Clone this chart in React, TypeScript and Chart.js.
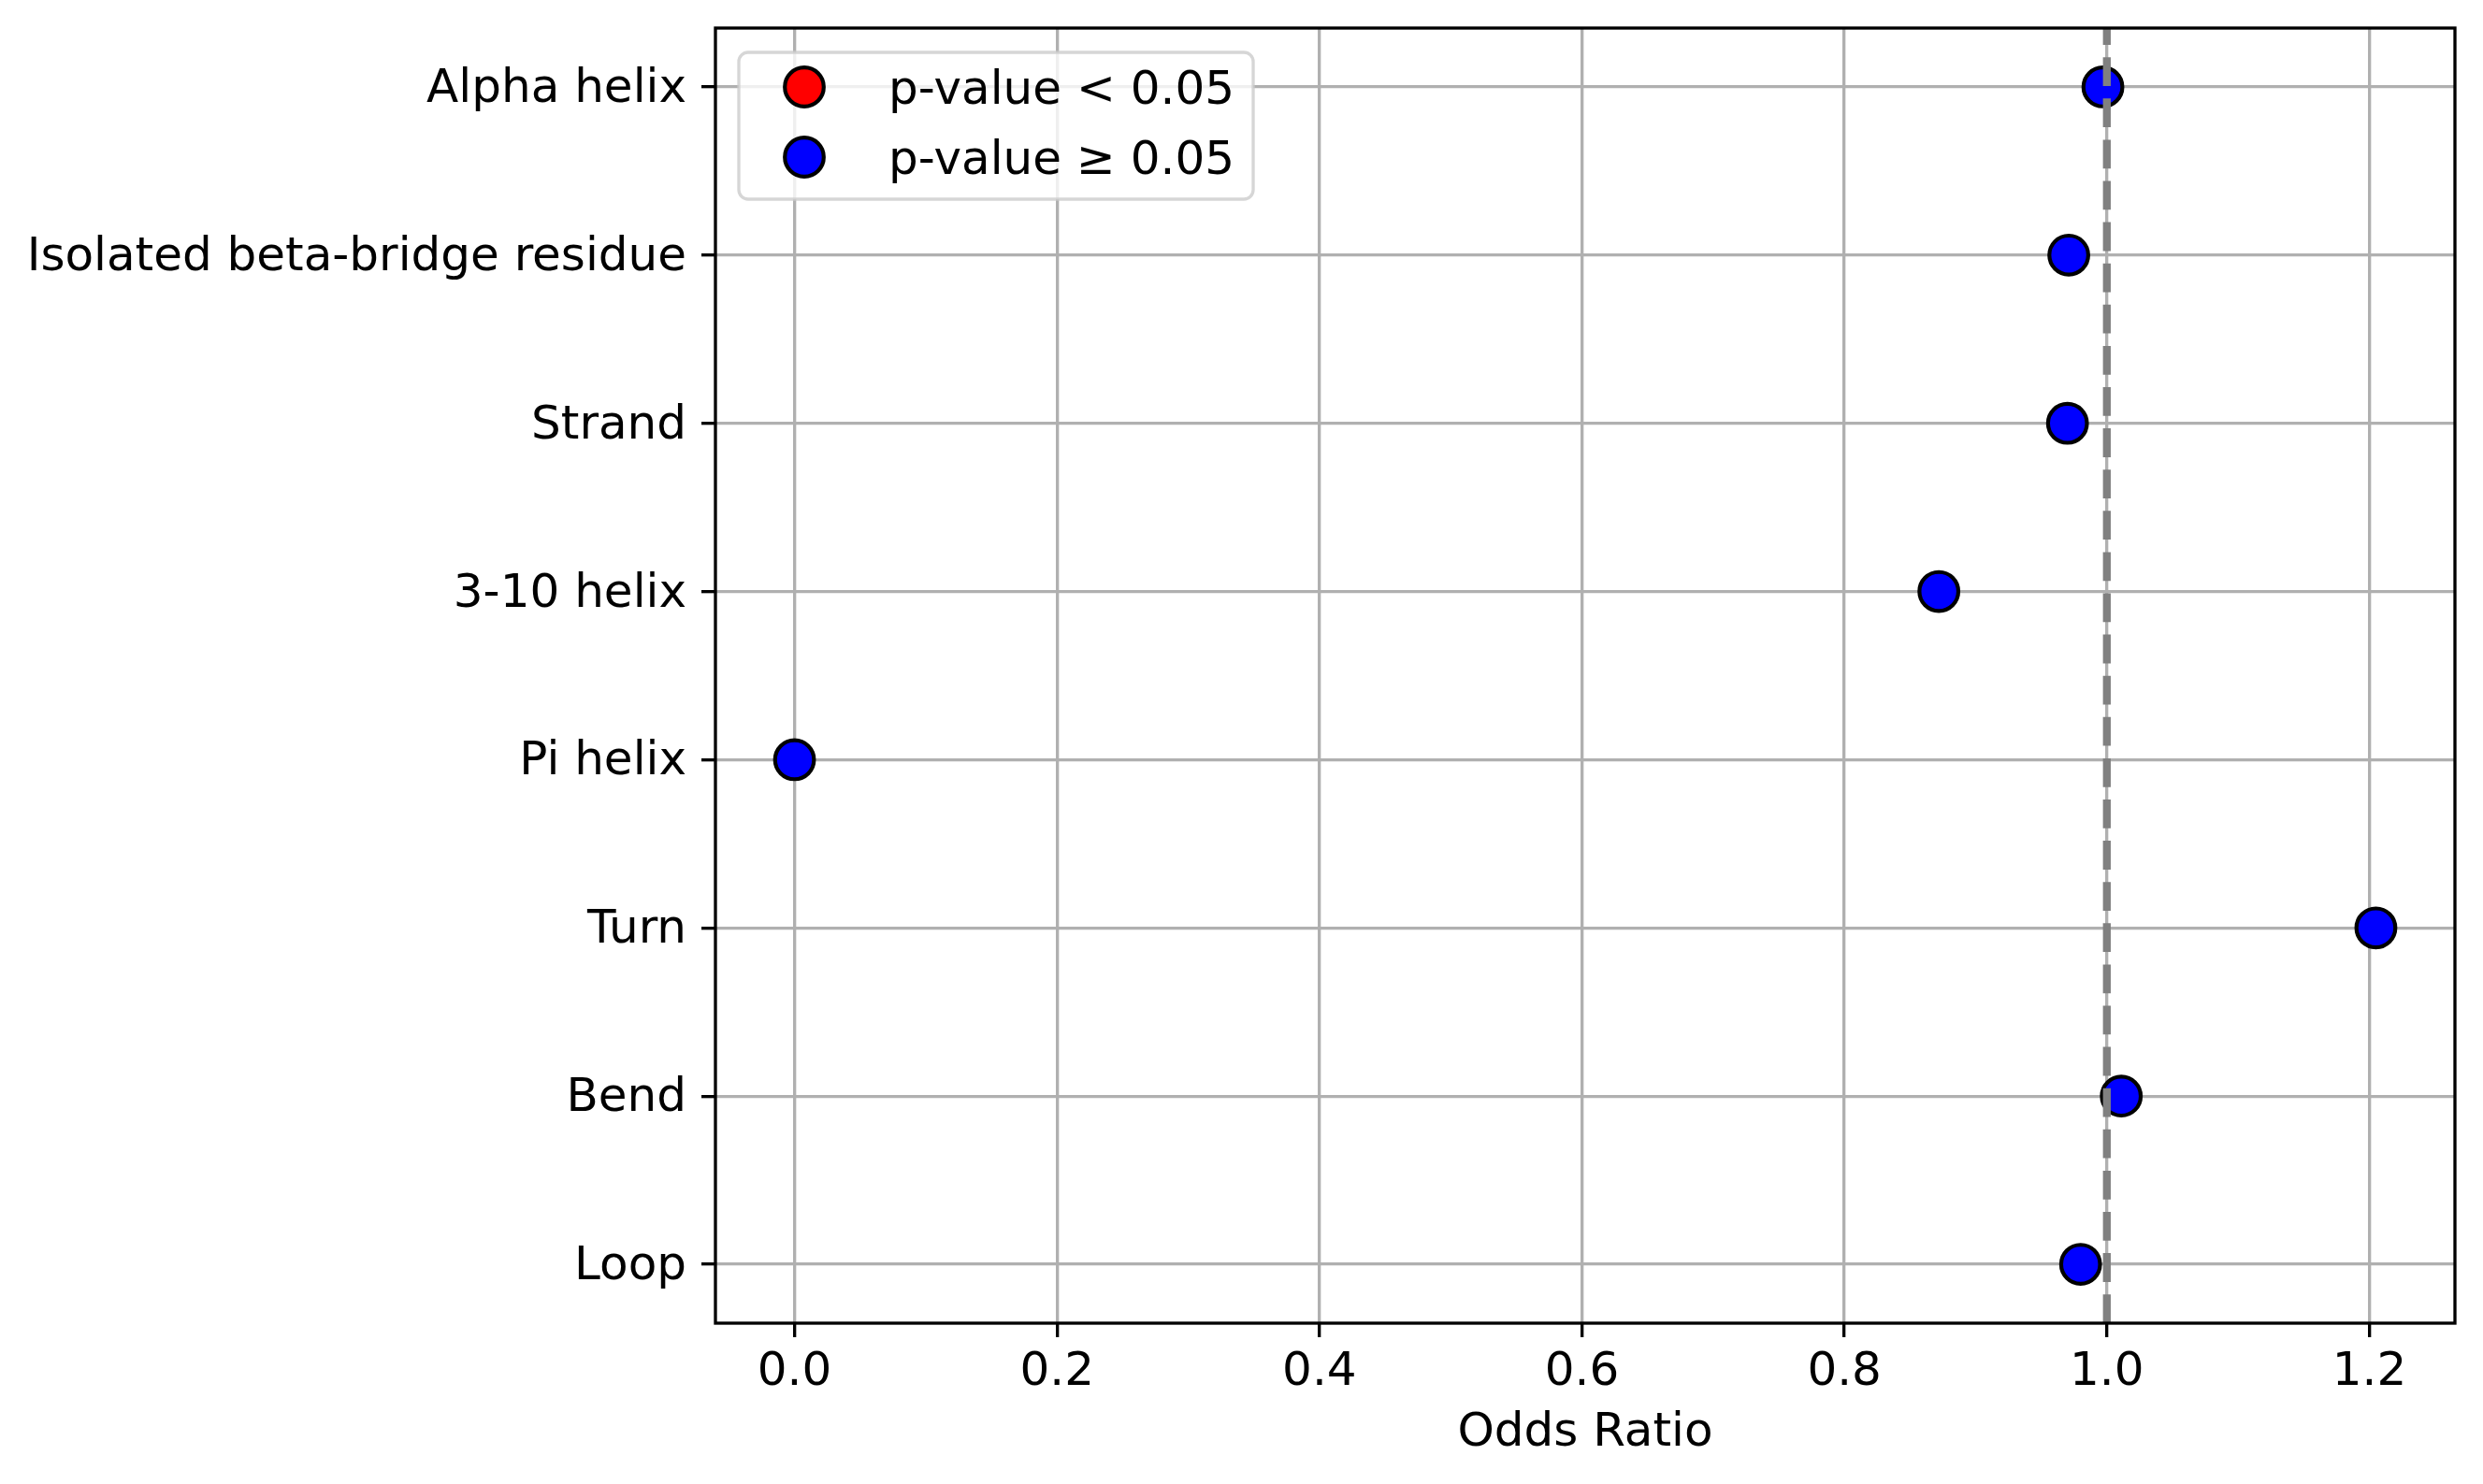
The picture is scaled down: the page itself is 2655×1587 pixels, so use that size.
import React, { useEffect, useRef } from "react";
import { Chart, registerables, Plugin } from "chart.js";

Chart.register(...registerables);

// secondary structure categories, top to bottom
const structures = [
  "Alpha helix",
  "Isolated beta-bridge residue",
  "Strand",
  "3-10 helix",
  "Pi helix",
  "Turn",
  "Bend",
  "Loop",
];
const oddsRatios = [0.997, 0.971, 0.97, 0.872, 0.0, 1.205, 1.011, 0.98];
const significant = [false, false, false, false, false, false, false, false];
const xTicks = [0.0, 0.2, 0.4, 0.6, 0.8, 1.0, 1.2];
const legendLabels = ["p-value < 0.05", "p-value ≥ 0.05"];
const referenceOdds = 1.0;

const W = 2655;
const H = 1587;
const SIG_COLOR = "#ff0000";
const NONSIG_COLOR = "#0000ff";
const legendColors = [SIG_COLOR, NONSIG_COLOR];
const FONT_FAMILY = "'DejaVu Sans', 'Liberation Sans', sans-serif";
const FS = 50;
const LW = 3.33; // 0.8pt @ 300dpi

// matplotlib style 5% margins
const lo = Math.min(...oddsRatios);
const hi = Math.max(...oddsRatios);
const span = hi - lo;
const X_MIN = lo - 0.05 * span;
const X_MAX = hi + 0.05 * span;
const Y_MIN = -0.05 * (structures.length - 1);
const Y_MAX = structures.length - 1 + 0.05 * (structures.length - 1);

const overlayPlugin: Plugin<"scatter"> = {
  id: "overlay",
  afterDraw(chart) {
    const { ctx, chartArea } = chart;
    const xs = chart.scales.x;
    ctx.save();

    // reference line at OR = 1
    const rx = xs.getPixelForValue(referenceOdds);
    ctx.strokeStyle = "#808080";
    ctx.lineWidth = 8.33;
    ctx.lineCap = "butt";
    ctx.setLineDash([30.8, 13.3]);
    ctx.beginPath();
    ctx.moveTo(rx, chartArea.bottom);
    ctx.lineTo(rx, chartArea.top);
    ctx.stroke();
    ctx.setLineDash([]);

    // spines
    ctx.strokeStyle = "#000000";
    ctx.lineWidth = LW;
    ctx.lineJoin = "miter";
    ctx.strokeRect(
      chartArea.left,
      chartArea.top,
      chartArea.right - chartArea.left,
      chartArea.bottom - chartArea.top
    );

    // legend
    ctx.font = `${FS}px ${FONT_FAMILY}`;
    const textW = Math.max(...legendLabels.map((t) => ctx.measureText(t).width));
    const lx = chartArea.left + 25;
    const ly = chartArea.top + 26;
    const lw = 20 + 100 + 40 + textW + 20;
    const lh = 157;
    const r = 10;
    ctx.beginPath();
    ctx.moveTo(lx + r, ly);
    ctx.lineTo(lx + lw - r, ly);
    ctx.arcTo(lx + lw, ly, lx + lw, ly + r, r);
    ctx.lineTo(lx + lw, ly + lh - r);
    ctx.arcTo(lx + lw, ly + lh, lx + lw - r, ly + lh, r);
    ctx.lineTo(lx + r, ly + lh);
    ctx.arcTo(lx, ly + lh, lx, ly + lh - r, r);
    ctx.lineTo(lx, ly + r);
    ctx.arcTo(lx, ly, lx + r, ly, r);
    ctx.closePath();
    ctx.fillStyle = "rgba(255,255,255,0.8)";
    ctx.fill();
    ctx.strokeStyle = "rgba(204,204,204,0.8)";
    ctx.lineWidth = LW;
    ctx.stroke();

    legendLabels.forEach((label, i) => {
      const cy = ly + 37 + i * 75;
      const cx = lx + 20 + 50;
      ctx.beginPath();
      ctx.arc(cx, cy, 20.8, 0, Math.PI * 2);
      ctx.fillStyle = legendColors[i];
      ctx.fill();
      ctx.lineWidth = 4.2;
      ctx.strokeStyle = "#000000";
      ctx.stroke();
      ctx.fillStyle = "#000000";
      ctx.textAlign = "left";
      ctx.textBaseline = "alphabetic";
      ctx.fillText(label, lx + 160, cy + 18);
    });

    ctx.restore();
  },
};

export default function App() {
  const canvasRef = useRef<HTMLCanvasElement>(null);

  useEffect(() => {
    document.body.style.margin = "0";
    const canvas = canvasRef.current;
    if (!canvas) return;

    const chart = new Chart(canvas, {
      type: "scatter",
      data: {
        datasets: [
          {
            label: "Odds ratio",
            data: oddsRatios.map((v, i) => ({ x: v, y: i })),
            backgroundColor: significant.map((s) => (s ? SIG_COLOR : NONSIG_COLOR)),
            borderColor: "#000000",
            borderWidth: 4.2,
            pointRadius: 20.8,
            pointHoverRadius: 20.8,
          },
        ],
      },
      options: {
        responsive: false,
        animation: false,
        devicePixelRatio: 1,
        events: [],
        layout: { padding: { left: 0, top: 30, right: 30, bottom: 0 } },
        plugins: {
          legend: { display: false },
          tooltip: { enabled: false },
        },
        scales: {
          x: {
            type: "linear",
            position: "bottom",
            min: X_MIN,
            max: X_MAX,
            z: 1,
            afterBuildTicks: (scale) => {
              scale.ticks = xTicks.map((v) => ({ value: v }));
            },
            afterFit: (scale: any) => {
              scale.height = H - 1415;
              scale.paddingLeft = 0;
              scale.paddingRight = 0;
            },
            grid: {
              color: "#b0b0b0",
              lineWidth: LW,
              drawTicks: true,
              tickLength: 15,
              tickColor: "#000000",
              tickWidth: LW,
            },
            border: { display: false },
            ticks: {
              autoSkip: false,
              maxRotation: 0,
              padding: 8,
              color: "#000000",
              font: { family: FONT_FAMILY, size: FS },
              callback: (v) => Number(v).toFixed(1),
            },
            title: {
              display: true,
              text: "Odds Ratio",
              color: "#000000",
              font: { family: FONT_FAMILY, size: FS },
              padding: { top: 0, bottom: 24 },
            },
          },
          y: {
            type: "linear",
            reverse: true,
            min: Y_MIN,
            max: Y_MAX,
            z: 1,
            afterBuildTicks: (scale) => {
              scale.ticks = structures.map((_, i) => ({ value: i }));
            },
            afterFit: (scale: any) => {
              scale.width = 765;
              scale.paddingTop = 0;
              scale.paddingBottom = 0;
            },
            grid: {
              color: "#b0b0b0",
              lineWidth: LW,
              drawTicks: true,
              tickLength: 15,
              tickColor: "#000000",
              tickWidth: LW,
            },
            border: { display: false },
            ticks: {
              autoSkip: false,
              padding: 16,
              labelOffset: 3,
              color: "#000000",
              font: { family: FONT_FAMILY, size: FS },
              callback: (v) => structures[Number(v)] ?? "",
            },
          },
        },
      },
      plugins: [overlayPlugin],
    });

    return () => chart.destroy();
  }, []);

  return (
    <div style={{ position: "fixed", left: 0, top: 0, width: W, height: H, background: "#ffffff" }}>
      <canvas ref={canvasRef} width={W} height={H} style={{ display: "block", width: W, height: H }} />
    </div>
  );
}
